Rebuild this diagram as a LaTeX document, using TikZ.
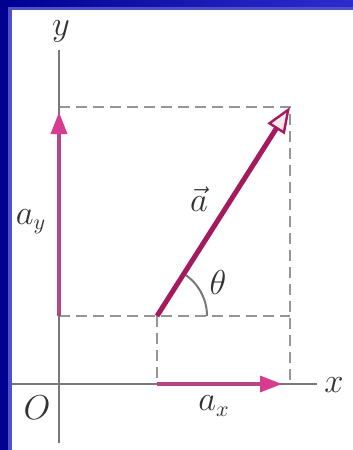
\documentclass[tikz,border=0pt]{standalone}
\usepackage{tikz}
\usetikzlibrary{arrows.meta,calc}
\definecolor{frameblue}{RGB}{0,0,145}
\definecolor{frameright}{RGB}{45,45,205}
\definecolor{framelight}{RGB}{80,80,200}
\definecolor{axisgray}{RGB}{120,120,120}
\definecolor{guidegray}{RGB}{150,150,150}
\definecolor{vecmag}{RGB}{165,25,95}
\definecolor{compmag}{RGB}{180,70,130}
\definecolor{headpink}{RGB}{215,60,145}
\tikzstyle{axisline}=[draw=axisgray,line width=1.4pt]
\tikzstyle{guide}=[draw=guidegray,line width=1pt,dash pattern=on 5.5pt off 3pt]
\tikzstyle{component}=[draw=compmag,line width=1.7pt,
    -{Triangle[length=11pt,width=8pt,fill=headpink,color=headpink]}]
\tikzstyle{vector}=[draw=vecmag,line width=2.5pt,
    -{Triangle[length=13pt,width=10pt,fill=pink!35,line width=1.2pt]}]
\tikzstyle{lbl}=[font=\fontsize{16}{18}\selectfont,text=black!80,inner sep=0pt]
\begin{document}
\begin{tikzpicture}[x=0.5pt,y=-0.5pt]
\useasboundingbox (0,0) rectangle (353,450);
%frame
\fill[white] (0,0) rectangle (353,450);
\shade[left color=frameblue,right color=frameright] (0,0) rectangle (353,9);
\fill[framelight] (12,7) rectangle (353,9.5);
\fill[frameblue] (0,0) rectangle (12,450);
\fill[framelight] (8,7) rectangle (12,450);
%points
\coordinate (O) at (59,384);
\coordinate (ytop) at (59,50);
\coordinate (ybot) at (59,443);
\coordinate (xleft) at (12,384);
\coordinate (xright) at (317,384);
\coordinate (tail) at (157,316);
\coordinate (tip) at (290,107);
\coordinate (foot) at (157,384);
\coordinate (corner) at (290,384);
\coordinate (ystart) at (59,316);
\coordinate (ylevel) at (59,107);
\coordinate (yend) at (59,112);
\coordinate (xend) at (282,384);
%dashed guides
\draw[guide] (ylevel) -- (tip) -- (corner);
\draw[guide] (ystart) -- (tail) -- (tail -| corner);
\draw[guide] (tail) -- (foot);
%axes
\draw[axisline] (ytop) -- (ybot);
\draw[axisline] (xleft) -- (xright);
%angle
\draw[axisgray,line width=1pt] (tail) ++(-57.5:50) arc[start angle=-57.5,end angle=0,radius=50];
%components
\draw[component] (ystart) -- (yend);
\draw[component] (foot) -- (xend);
%vector
\draw[vector] (tail) -- (tip);
%labels
\node[lbl] (ylbl) at (61,31) {$y$};
\node[lbl] (xlbl) at (334,385) {$x$};
\node[lbl] (olbl) at (37,408) {$O$};
\node[lbl] (axlbl) at (214,406) {$a_x$};
\node[lbl] (aylbl) at (31,222) {$a_y$};
\node[lbl] (albl) at (199,199) {$\vec{a}$};
\node[lbl] (thlbl) at (218,282) {$\theta$};
\end{tikzpicture}
\end{document}
